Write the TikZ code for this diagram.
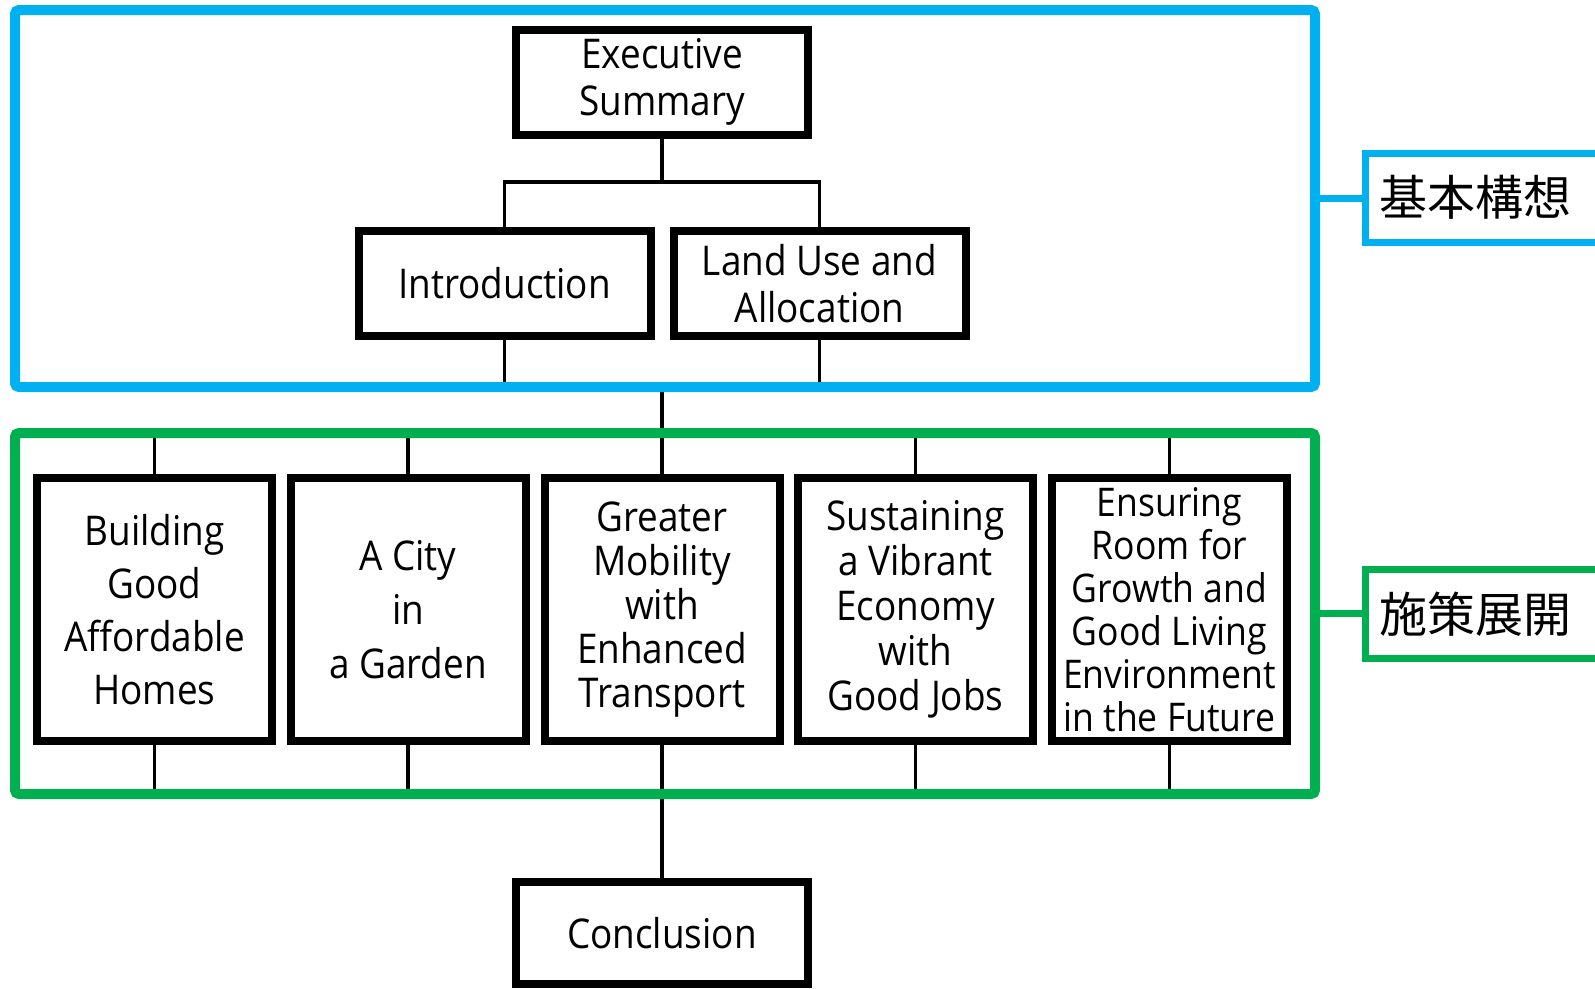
\documentclass[tikz,border=0pt]{standalone}
\usepackage{fontspec}
\setmainfont{Open Sans}[FakeStretch=0.9]
\newfontfamily\cjk{Noto Sans CJK JP}
\usetikzlibrary{backgrounds}
\definecolor{frameblue}{HTML}{00B0F0}
\definecolor{framegreen}{HTML}{00B050}

\begin{document}
\begin{tikzpicture}[x=1pt,y=-1pt,
  box/.style={draw=black, line width=8pt, fill=white, inner sep=0pt, outer sep=0pt,
              align=center, text=black},
  topbox/.style={box, minimum width=292pt, minimum height=105pt,
                 font=\fontsize{41}{47}\selectfont},
  themebox/.style={box, minimum width=235pt, minimum height=263pt},
  zone/.style={draw=#1, line width=10pt, rounded corners=4pt, inner sep=0pt, outer sep=0pt},
  zonetag/.style={draw=#1, line width=7pt, fill=white, anchor=west, minimum height=89pt,
                  text width=270pt, align=left, inner xsep=14pt, inner ysep=0pt,
                  outer sep=0pt, font=\cjk\fontsize{48}{48}\selectfont},
  wire/.style={draw=black, line width=3.5pt},
  tagwire/.style={draw=#1, line width=7pt},
]
\useasboundingbox (0,0) rectangle (1595,988);
\clip (0,0) rectangle (1595,988);

% grouping frames
\node[zone=frameblue, minimum width=1300pt, minimum height=377pt] (upper) at (665,198.5) {};
\node[zone=framegreen, minimum width=1300pt, minimum height=361pt] (lower) at (665,613.5) {};

% frame captions
\node[zonetag=frameblue] (uppertag) at (1365,197.5) {基本構想};
\node[zonetag=framegreen] (lowertag) at (1365,614) {施策展開};
\draw[tagwire=frameblue] (upper.east) -- (upper.east -| uppertag.west);
\draw[tagwire=framegreen] (lower.east) -- (lower.east -| lowertag.west);

% upper chapters
\node[topbox] (exec) at (662,82) {Executive\\Summary};
\node[topbox] (intro) at (504.5,283.5) {Introduction};
\node[topbox] (land) at (819.5,283.5) {Land Use and\\Allocation};

% themes
\node[themebox, font=\fontsize{41}{53}\selectfont] (t1) at (154.5,609.5)
  {Building\\Good\\Affordable\\Homes};
\node[themebox, font=\fontsize{41}{54}\selectfont] (t2) at (408,609.5)
  {A City\\in\\a Garden};
\node[themebox, font=\fontsize{41}{44}\selectfont] (t3) at (662,609.5)
  {Greater\\Mobility\\with\\Enhanced\\Transport};
\node[themebox, font=\fontsize{41}{45}\selectfont] (t4) at (915.5,609.5)
  {Sustaining\\a Vibrant\\Economy\\with\\Good Jobs};
\node[themebox, font=\fontsize{39.5}{43}\selectfont] (t5) at (1169.5,609.5)
  {Ensuring\\Room for\\Growth and\\Good Living\\Environment\\in the Future};

% closing chapter
\node[topbox, minimum height=102pt] (concl) at (662,933) {Conclusion};

% connectors, kept beneath boxes and frames
\begin{pgfonlayer}{background}
  \fill[white] (0,0) rectangle (1595,988);
  \coordinate (split) at (662,182);
  \draw[wire] (exec.south) -- (exec.south |- split);
  \draw[wire] (intro.north) -- (intro.north |- split) -- (land.north |- split) -- (land.north);
  \draw[wire] (intro.south) -- (intro.south |- upper.south);
  \draw[wire] (land.south) -- (land.south |- upper.south);
  \draw[wire] (upper.south -| exec.south) -- (lower.north -| exec.south);
  \foreach \t in {t1,t2,t3,t4,t5} {
    \draw[wire] (\t.north) -- (\t.north |- lower.north);
    \draw[wire] (\t.south) -- (\t.south |- lower.south);
  }
  \draw[wire] (concl.north) -- (concl.north |- lower.south);
\end{pgfonlayer}
\end{tikzpicture}
\end{document}
